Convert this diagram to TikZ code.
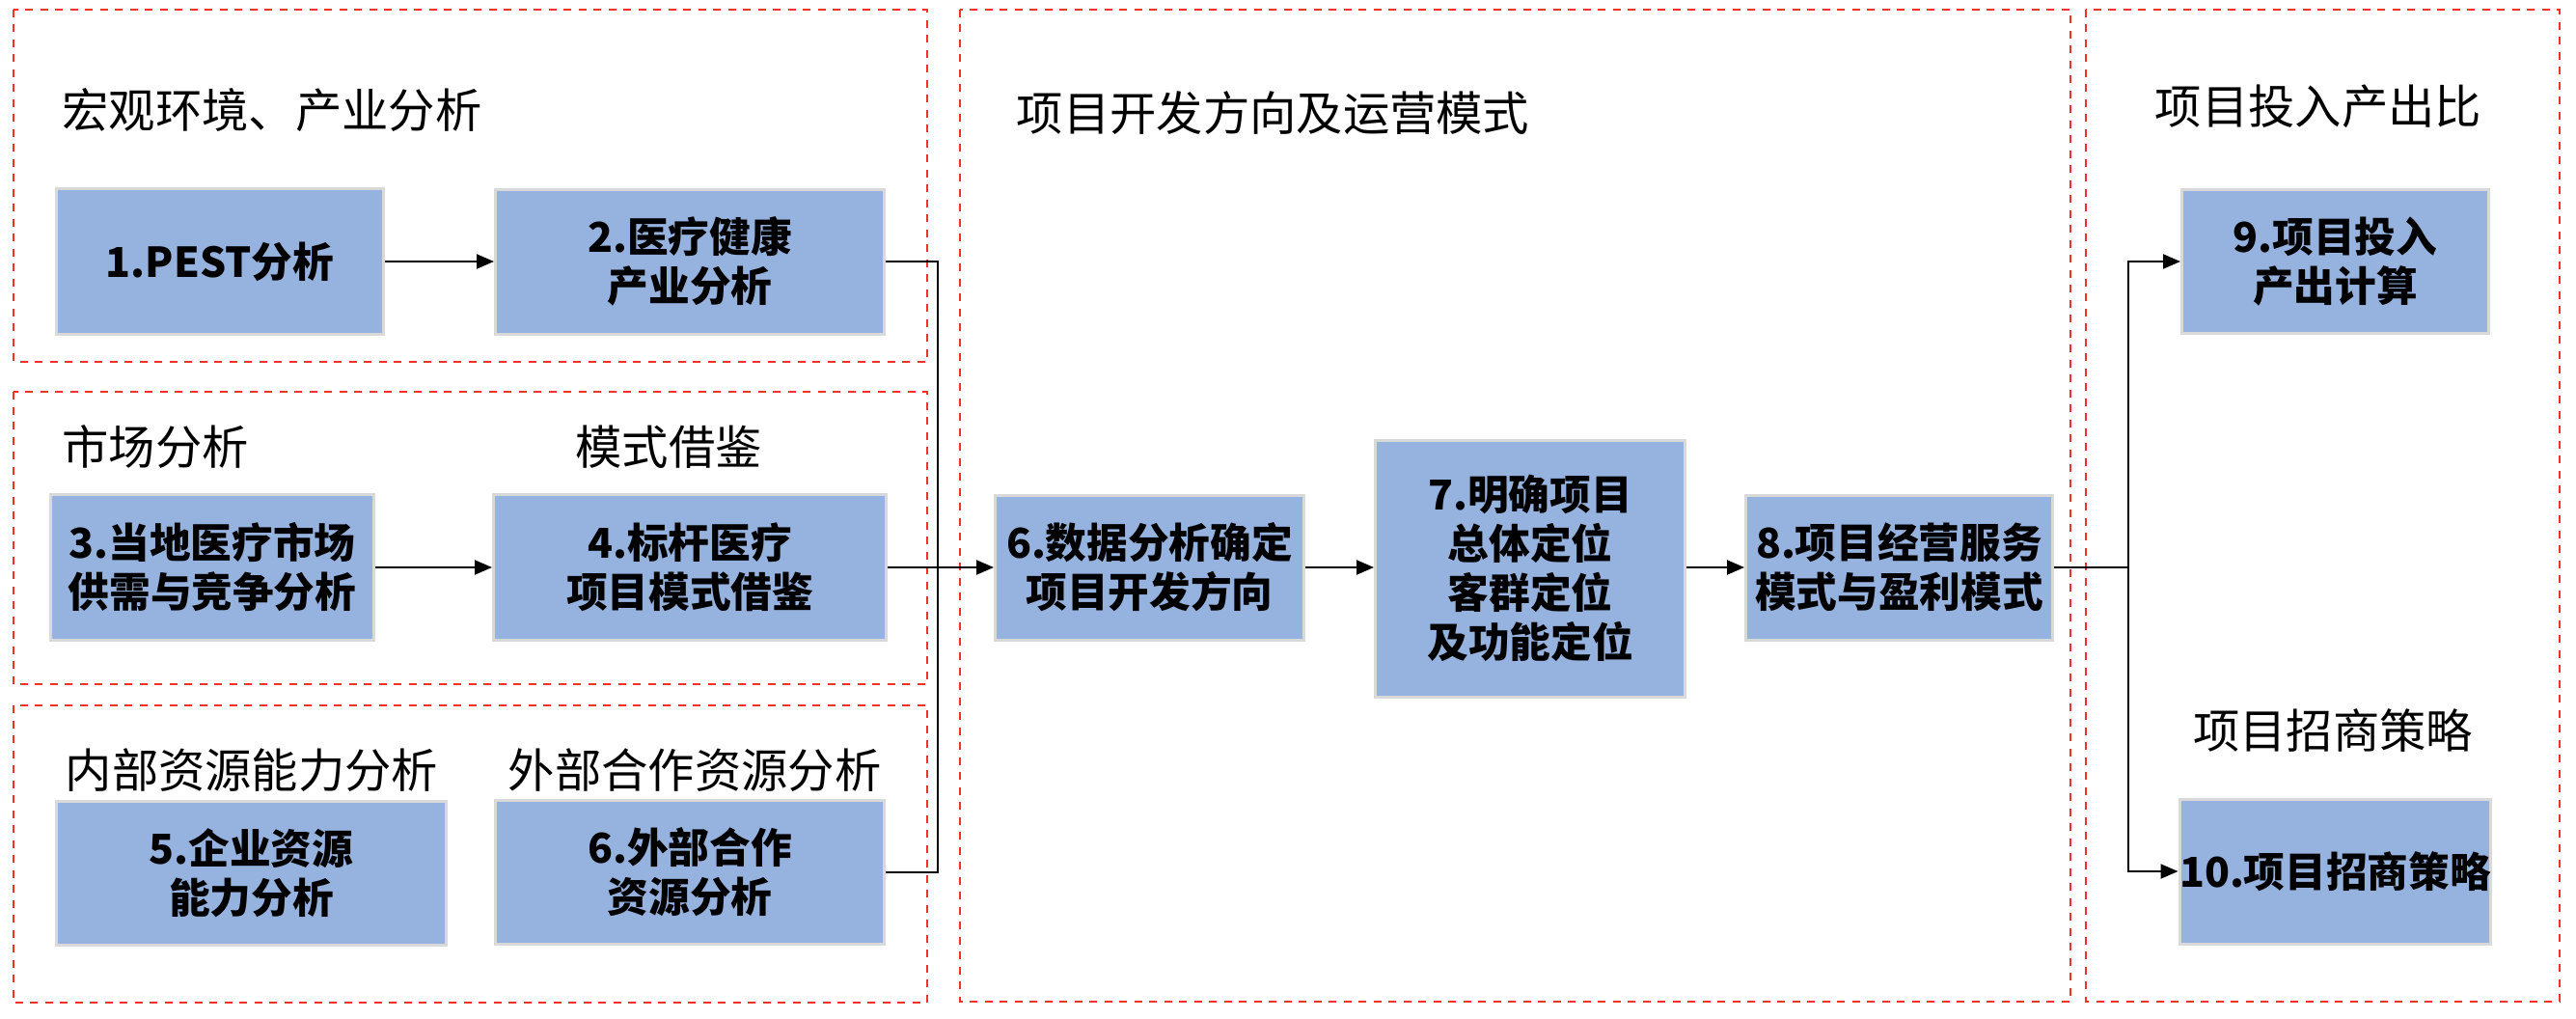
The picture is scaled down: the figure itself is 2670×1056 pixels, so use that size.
\documentclass[tikz,border=0pt]{standalone}
\usepackage{fontspec}
\setmainfont{Noto Sans CJK SC}
\usetikzlibrary{arrows.meta}
\definecolor{boxfill}{RGB}{150,178,222}
\definecolor{boxline}{RGB}{217,217,217}
\definecolor{dashred}{RGB}{240,50,40}
\tikzset{
  stepbox/.style={draw=boxline, line width=0.9pt, fill=boxfill, align=center, inner sep=0pt,
    font=\bfseries\fontsize{12.8}{15.3}\selectfont},
  ttl/.style={inner sep=0pt, font=\fontsize{14.5}{17}\selectfont},
  region/.style={draw=dashred, line width=0.8pt, dash pattern=on 2.4pt off 2.25pt},
  conn/.style={draw=black, line width=0.6pt},
  arr/.style={conn, -{Triangle[length=5.4pt,width=4.5pt]}}
}
\begin{document}
\begin{tikzpicture}[x=0.3pt, y=-0.3pt]
\useasboundingbox (0,0) rectangle (2670,1056);
% regions
\draw[region] (14,10) rectangle (961,375);
\draw[region] (14,406) rectangle (961,709);
\draw[region] (14,731) rectangle (961,1039);
\draw[region] (995,10) rectangle (2146,1038);
\draw[region] (2162,10) rectangle (2653,1038);
% titles
\node[ttl, anchor=west] (t1) at (64,114) {宏观环境、产业分析};
\node[ttl, anchor=west] (t2) at (64,463) {市场分析};
\node[ttl] (t3) at (693,463) {模式借鉴};
\node[ttl, anchor=west] (t4) at (67,798) {内部资源能力分析};
\node[ttl] (t5) at (720,798) {外部合作资源分析};
\node[ttl, anchor=west] (t6) at (1053,117) {项目开发方向及运营模式};
\node[ttl] (t7) at (2403,110) {项目投入产出比};
\node[ttl] (t8) at (2418,757) {项目招商策略};
% boxes
\node[stepbox, minimum width=101.7pt, minimum height=45.3pt] (b1) at (228,271) {1.PEST分析};
\node[stepbox, minimum width=120.9pt, minimum height=45pt] (b2) at (715,271) {2.医疗健康\\产业分析};
\node[stepbox, minimum width=100.5pt, minimum height=45.3pt] (b3) at (220,588) {3.当地医疗市场\\供需与竞争分析};
\node[stepbox, minimum width=122.1pt, minimum height=45.3pt] (b4) at (715,588) {4.标杆医疗\\项目模式借鉴};
\node[stepbox, minimum width=121.2pt, minimum height=44.7pt] (b5) at (260.5,905) {5.企业资源\\能力分析};
\node[stepbox, minimum width=120.9pt, minimum height=44.7pt] (b6e) at (715,904) {6.外部合作\\资源分析};
\node[stepbox, minimum width=96pt, minimum height=45pt] (b6d) at (1191.5,588) {6.数据分析确定\\项目开发方向};
\node[stepbox, minimum width=96.3pt, minimum height=79.8pt] (b7) at (1586,589) {7.明确项目\\总体定位\\客群定位\\及功能定位};
\node[stepbox, minimum width=95.4pt, minimum height=45pt] (b8) at (1968.5,588) {8.项目经营服务\\模式与盈利模式};
\node[stepbox, minimum width=95.4pt, minimum height=44.7pt] (b9) at (2420.5,271) {9.项目投入\\产出计算};
\node[stepbox, minimum width=95.4pt, minimum height=45pt] (b10) at (2420.5,903) {10.项目招商策略};
% junction coordinates
\coordinate (jL) at (972,588);
\coordinate (jR) at (2206,588);
% connectors
\draw[arr] (b1) -- (b2);
\draw[arr] (b3) -- (b4);
\draw[conn] (b2.east) -- (b2.east -| jL) -- (b6e.east -| jL) -- (b6e.east);
\draw[arr] (b4.east) -- (b6d.west |- b4.east);
\draw[arr] (b6d.east) -- (b7.west |- b6d.east);
\draw[arr] (b7.east |- b8.west) -- (b8.west);
\draw[conn] (b8.east) -- (b8.east -| jR);
\draw[arr] (b8.east -| jR) |- (b9.west);
\draw[arr] (b8.east -| jR) |- (b10.west);
\end{tikzpicture}
\end{document}
